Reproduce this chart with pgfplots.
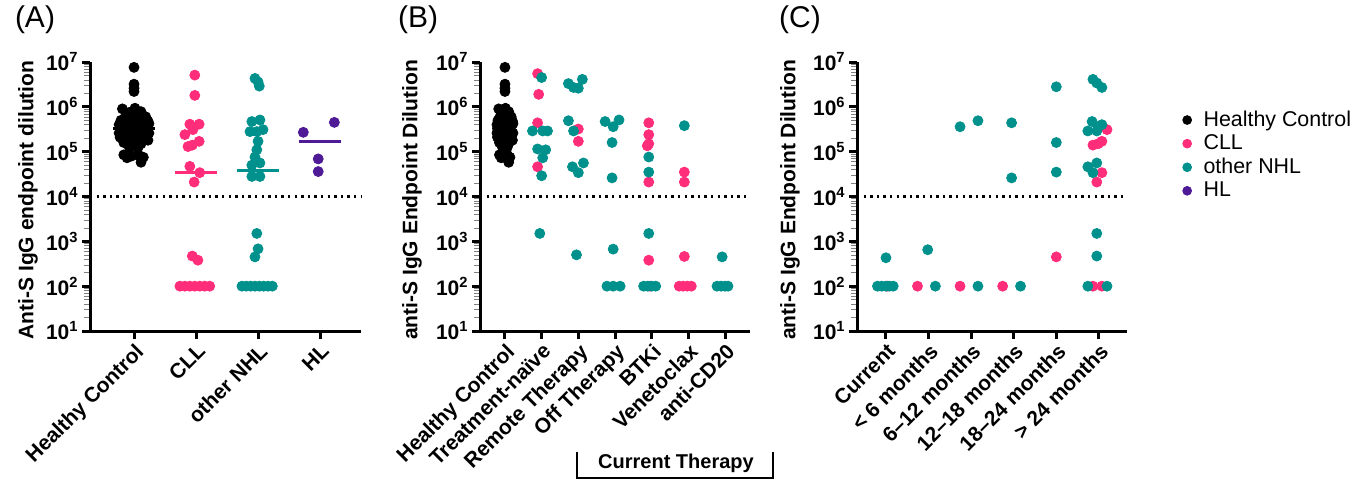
\documentclass[border=0pt]{standalone}
\usepackage{fontspec}
\setmainfont{Liberation Sans}
\usepackage{pgfplots}
\usepackage{pgfplotstable}
\pgfplotsset{compat=1.18}

\definecolor{cll}{HTML}{FF2D7A}
\definecolor{nhl}{HTML}{00918C}
\definecolor{hl}{HTML}{4E1A96}
\newcommand\fs[1]{\fontsize{#1}{#1}\selectfont}

% healthy controls, x = jitter around the category
\pgfplotstableread{
x y
0 7.6e6
0 3.2e6
0 2.6e6
0 2.2e6
-0.25 9.0e5
0.02 9.3e5
0.15 7.8e5
-0.1 7.5e5
-0.18 6.3e5
0.05 6.6e5
0.25 6.0e5
-0.28 5.0e5
-0.08 5.3e5
0.12 5.2e5
0.3 4.8e5
-0.32 4.0e5
-0.15 4.2e5
0.02 4.3e5
0.18 4.1e5
0.32 4.2e5
-0.3 3.3e5
-0.12 3.4e5
0.06 3.2e5
0.22 3.4e5
-0.32 2.6e5
-0.15 2.7e5
0.02 2.5e5
0.18 2.7e5
0.32 2.6e5
-0.3 2.1e5
-0.12 2.0e5
0.05 2.1e5
0.22 2.0e5
0.3 1.8e5
-0.22 1.6e5
-0.02 1.6e5
0.15 1.5e5
-0.1 1.25e5
0.08 1.2e5
-0.22 8.5e4
-0.05 8.0e4
0.1 8.3e4
-0.15 7.3e4
0.2 7.5e4
0.15 5.8e4
}\hc

\pgfplotsset{
  panel/.style={
    scale only axis, height=134.5pt, anchor=south west,
    ymin=10, ymax=1e7,
    ytick={1e1,1e2,1e3,1e4,1e5,1e6,1e7},
    yticklabels={10\textsuperscript{1},10\textsuperscript{2},10\textsuperscript{3},
      10\textsuperscript{4},10\textsuperscript{5},10\textsuperscript{6},10\textsuperscript{7}},
    axis x line*=bottom, axis y line*=left,
    axis line style={line width=1.5pt},
    major tick style={line width=1.5pt, black},
    major tick length=4pt, tick align=outside,
    yticklabel style={font=\bfseries\fs{10.5}, inner sep=1.5pt},
    xticklabel style={rotate=45, anchor=north east, inner sep=1pt, font=\bfseries\fs{10.5}},
    clip=false,
  },
  dot/.style={only marks, mark=*, mark size=2.5pt},
  cut/.style={black, line width=1.2pt, dash pattern=on 1.2pt off 2.1pt},
}

\begin{document}
\begin{tikzpicture}
\useasboundingbox (0,0) rectangle (682pt,-240.5pt);

% (A) by diagnosis
\begin{semilogyaxis}[panel, at={(45pt,-165.5pt)}, width=135.5pt,
  xmin=-0.71, xmax=3.66, xtick={0,1,2,3},
  xticklabels={Healthy Control, CLL, other NHL, HL}]
\addplot[cut] coordinates {(-0.71,1e4) (3.66,1e4)};
\addplot[dot, black] table[x expr=\thisrow{x}*0.75, y=y] {\hc};
\addplot[dot, cll] coordinates {
  (0.98,5.1e6) (0.98,1.8e6) (0.9,4.1e5) (1.05,4.1e5) (0.95,3.1e5)
  (0.82,2.4e5) (1.05,1.7e5) (0.94,1.4e5) (0.87,1.3e5)
  (0.9,4.7e4) (1.06,3.4e4) (0.97,2.1e4)
  (0.94,470) (1.03,380)
  (0.74,100) (0.82,100) (0.9,100) (0.98,100) (1.06,100) (1.14,100) (1.22,100)};
\addplot[dot, nhl] coordinates {
  (1.95,4.3e6) (2.0,3.6e6) (2.02,2.9e6)
  (1.9,4.7e5) (2.03,5.1e5) (2.08,3.1e5) (1.87,2.8e5) (1.98,2.8e5)
  (2.0,1.7e5) (1.98,1.1e5) (1.95,7.6e4) (1.9,5.0e4) (2.03,5.6e4)
  (1.9,2.8e4) (2.03,2.8e4)
  (1.98,1.5e3) (2.0,680) (1.95,450)
  (1.74,100) (1.81,100) (1.88,100) (1.95,100) (2.02,100) (2.09,100) (2.16,100) (2.23,100)};
\addplot[dot, hl] coordinates {(2.73,2.7e5) (3.23,4.5e5) (2.97,6.9e4) (2.97,3.6e4)};
% medians
\addplot[black, line width=1.5pt] coordinates {(-0.34,3.3e5) (0.34,3.3e5)};
\addplot[cll, line width=1.5pt] coordinates {(0.66,3.5e4) (1.34,3.5e4)};
\addplot[nhl, line width=1.5pt] coordinates {(1.66,3.9e4) (2.34,3.9e4)};
\addplot[hl, line width=1.5pt] coordinates {(2.66,1.7e5) (3.34,1.7e5)};
\end{semilogyaxis}

% (B) by treatment
\begin{semilogyaxis}[panel, at={(240pt,-165.5pt)}, width=135pt,
  xmin=-0.68, xmax=6.68, xtick={0,...,6},
  xticklabels={Healthy Control, Treatment-naïve, Remote Therapy, Off Therapy, BTKi, Venetoclax, anti-CD20}]
\addplot[cut] coordinates {(-0.68,1e4) (6.68,1e4)};
\addplot[dot, black] table[x expr=\thisrow{x}*0.68, y=y] {\hc};
\addplot[dot, cll] coordinates {
  (0.89,5.5e6) (0.92,1.9e6) (0.89,4.4e5) (0.89,4.6e4)
  (2.0,3.2e5) (2.0,1.7e5)
  (3.92,4.4e5) (3.92,2.4e5) (3.92,1.5e5) (3.88,1.35e5) (3.92,2.1e4) (3.92,380) (3.95,100)
  (4.89,3.5e4) (4.89,2.1e4) (4.89,460)
  (4.75,100) (4.86,100) (4.97,100) (5.08,100)};
\addplot[dot, nhl] coordinates {
  (1.0,4.5e6) (0.75,2.9e5) (1.03,2.9e5) (1.16,2.9e5)
  (0.89,1.15e5) (1.11,1.1e5) (1.03,7.3e4) (1.0,2.9e4) (0.95,1.5e3)
  (1.73,3.3e6) (1.87,2.7e6) (2.0,2.6e6) (2.11,4.1e6)
  (1.73,4.9e5) (1.87,2.9e5) (1.84,4.6e4) (2.0,3.4e4) (2.14,5.6e4) (1.95,500)
  (2.73,4.7e5) (2.95,3.6e5) (3.11,5.1e5) (2.92,1.6e5) (2.92,2.6e4) (2.95,670)
  (2.78,100) (2.95,100) (3.14,100)
  (3.92,7.6e4) (3.92,3.5e4) (3.92,1.5e3)
  (3.78,100) (3.89,100) (4.0,100) (4.11,100)
  (4.89,3.8e5)
  (5.92,450) (5.78,100) (5.89,100) (6.0,100) (6.08,100)};
\end{semilogyaxis}

% (C) by time since last therapy
\begin{semilogyaxis}[panel, at={(428.5pt,-165.5pt)}, width=135pt,
  xmin=-0.68, xmax=5.66, xtick={0,...,5},
  xticklabels={Current, < 6 months, 6–12 months, 12–18 months, 18–24 months, > 24 months},
  legend style={at={(axis description cs:1.205,0.835)}, anchor=north west,
    draw=none, fill=none, font=\fs{10.7}, row sep=-1.3pt, column sep=4pt, inner sep=0pt},
  legend cell align=left]
\addplot[cut, forget plot] coordinates {(-0.68,1e4) (5.66,1e4)};
\addplot[dot, cll, forget plot] coordinates {
  (0.03,100) (0.74,100) (1.74,100) (2.74,100)
  (4.0,450)
  (5.19,3.1e5) (4.86,1.4e5) (4.98,1.5e5) (5.07,1.7e5) (5.07,3.4e4) (4.95,2.1e4)
  (4.86,100) (5.07,100)};
\addplot[dot, nhl, forget plot] coordinates {
  (0.0,430) (-0.2,100) (-0.1,100) (0.0,100) (0.08,100) (0.17,100)
  (0.98,650) (1.16,100)
  (1.74,3.6e5) (2.16,4.9e5) (2.16,100)
  (2.95,4.4e5) (2.95,2.6e4) (3.16,100)
  (4.0,2.8e6) (4.0,1.6e5) (4.0,3.5e4)
  (4.86,4.1e6) (4.95,3.4e6) (5.07,2.7e6)
  (4.84,4.7e5) (4.74,2.9e5) (4.95,2.9e5) (5.07,4.0e5) (4.98,3.6e5)
  (4.74,4.6e4) (4.95,5.6e4) (4.86,3.4e4)
  (4.95,1.5e3) (4.95,470)
  (4.74,100) (5.19,100)};
\addlegendimage{only marks, mark=*, mark size=2.2pt, black}
\addlegendentry{Healthy Control}
\addlegendimage{only marks, mark=*, mark size=2.2pt, cll}
\addlegendentry{CLL}
\addlegendimage{only marks, mark=*, mark size=2.2pt, nhl}
\addlegendentry{other NHL}
\addlegendimage{only marks, mark=*, mark size=2.2pt, hl}
\addlegendentry{HL}
\end{semilogyaxis}

% panel letters, axis titles, bracket
\node[font=\fs{15}] at (17.5pt,-10pt) {(A)};
\node[font=\fs{15}] at (209pt,-10pt) {(B)};
\node[font=\fs{15}] at (400pt,-10pt) {(C)};
\node[font=\bfseries\fs{10.5}, rotate=90] at (14pt,-100pt) {Anti-S IgG endpoint dilution};
\node[font=\bfseries\fs{10.5}, rotate=90] at (206pt,-100pt) {anti-S IgG Endpoint Dilution};
\node[font=\bfseries\fs{10.5}, rotate=90] at (395pt,-100pt) {anti-S IgG Endpoint Dilution};
\draw[line width=1pt] (288.5pt,-226pt) -- (288.5pt,-239pt) -- (386.5pt,-239pt) -- (386.5pt,-226pt);
\node[font=\bfseries\fs{10}] at (338pt,-231.5pt) {Current Therapy};
\end{tikzpicture}
\end{document}
